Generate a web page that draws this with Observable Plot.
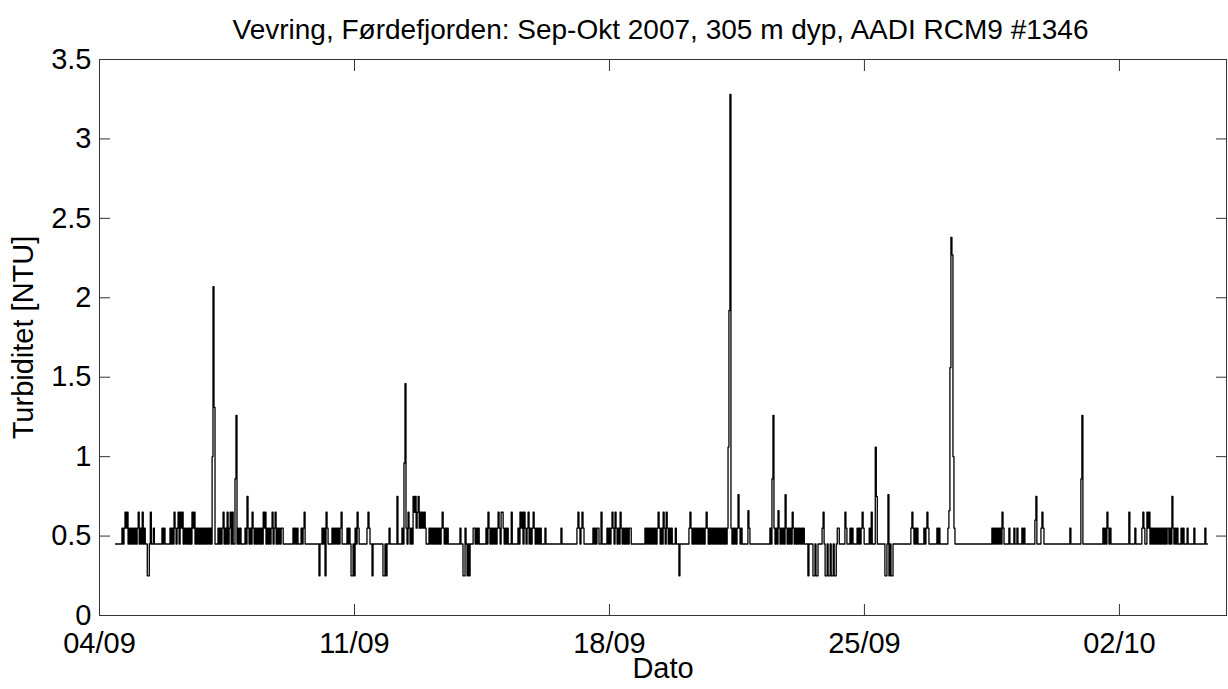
<!DOCTYPE html>
<html>
<head>
<meta charset="utf-8">
<script src="https://cdn.jsdelivr.net/npm/d3@7"></script>
<script src="https://cdn.jsdelivr.net/npm/@observablehq/plot@0.6"></script>
<style>
  html, body { margin: 0; padding: 0; background: #fff; }
  body { width: 1228px; height: 689px; overflow: hidden; font-family: "Liberation Sans", Arial, Helvetica, sans-serif; }
  #title { box-sizing: border-box; height: 30px; padding-top: 14px; padding-left: 99px; width: 1222px; overflow: visible;
           font-size: 28px; line-height: 32px; text-align: center; color: #000; white-space: nowrap; position: relative; z-index: 1; }
  #chart svg { display: block; }
</style>
</head>
<body>
<div id="title"></div>
<div id="chart"></div>
<script>
// ---------------- data ----------------
const titleText = "Vevring, Førdefjorden: Sep-Okt 2007, 305 m dyp, AADI RCM9 #1346";
const xLabel = "Dato";
const yLabel = "Turbiditet [NTU]";
const startDate = "2007-09-04";                 // day 0 of the record
const xEndDay = 30.94;                          // right end of the time axis (days)
const tickDates = ["2007-09-04", "2007-09-11", "2007-09-18", "2007-09-25", "2007-10-02"];
const yTicks = [0, 0.5, 1, 1.5, 2, 2.5, 3, 3.5];
const sampleMinutes = 40;                       // sampling interval
const baseLevel = 0.45;                         // background turbidity (NTU)
const recordStartDay = 0.439;
const recordEndDay = 30.415;

// start day of each run of non-background samples
const segStart = [0.631, 1.729, 1.949, 2.525, 3.102, 3.267, 3.733, 4.008, 4.557, 5.325,
  6.039, 6.396, 6.808, 7.357, 7.796, 8.180, 8.317, 8.976, 9.910, 10.623,
  11.502, 12.243, 12.682, 13.121, 13.560, 13.945, 14.988, 15.921, 16.196, 16.745,
  17.266, 17.815, 18.419, 19.462, 20.478, 21.576, 22.289, 22.646, 23.003, 23.305,
  24.513, 24.980, 25.117, 25.336, 25.693, 26.654, 26.956, 27.560, 28.273, 28.438,
  28.630, 29.344, 30.058, 30.360];

// turbidity samples (NTU) of each run, one per sampling interval
const segVals = [
  [.55,.45,.55,.65,.55,.65,.45,.55,.45,.55,.45,.55,.45,.55,.45,.55,.65,.45,.55,.45,.65,.45,.55,.45,.45,.25,.25,.45,.65,.45,.45,.55],
  [.55,.45,.55],
  [.55,.45,.55,.45,.65,.55,.45,.55,.65,.45,.65,.55,.65,.45,.55,.45,.55,.45,.55,.45,.55],
  [.45,.65,.55,.65,.45,.55,.45,.55,.45,.55,.45,.55,.45,.55,.45,.55,.45,.55,.45,.55,.45],
  [1.0,2.07,1.31],
  [.55,.45,.55,.45,.55,.65,.45,.55,.45,.65,.45,.55,.65,.45,.65],
  [.86,1.26,.45,.55,.45,.55],
  [.55,.45,.75,.55,.45,.55,.45,.65,.55,.45,.55,.45,.55,.45,.55,.45,.55,.45,.65,.55],
  [.65,.45,.55,.45,.55,.45,.55,.65,.45,.55,.65,.45,.55,.45,.55,.45,.55,.55],
  [.55,.45,.55,.45,.55,.45,.45,.45,.55,.45,.55,.65],
  [.25,.45,.45,.55,.45,.55,.25,.65,.55],
  [.55,.45,.55,.45,.55,.45,.55,.45,.55,.65],
  [.55,.45,.55,.45,.25,.25,.45,.25,.55,.45,.65,.55],
  [.55,.65,.55,.45,.45,.25],
  [.25,.25,.45,.25,.45,.45,.55],
  [.75],
  [.55,.45,.96,1.46,.55,.45,.65,.55,.45,.55,.45,.75,.65,.75,.55,.65,.75,.55,.65,.55,.65,.55,.65,.55],
  [.45,.45,.45,.55,.45,.55,.45,.55,.45,.55,.45,.55,.45,.55,.45,.55,.65,.55,.45,.55,.45,.55],
  [.55,.45,.45,.25,.25,.55,.45,.25,.45,.25,.45,.45,.45,.55,.55,.45,.55,.45,.55],
  [.55,.45,.65,.55,.45,.55,.45,.55,.45,.55,.45,.55,.65,.55,.45,.65,.65,.55,.45,.55,.45,.55,.45,.45,.45,.65],
  [.55,.45,.65,.55,.65,.45,.65,.55,.45,.55,.65,.45,.55,.45,.55,.65,.55,.45,.55,.45,.55,.45,.55],
  [.55],
  [.55],
  [.55,.65,.55,.45,.55,.65,.55],
  [.55,.45,.55,.45,.55,.55,.45,.45,.65],
  [.55,.45,.55,.45,.55,.65,.55,.45,.65,.55,.45,.55,.45,.65,.55,.45,.55,.45,.55,.45,.55,.45,.55,.55],
  [.55,.45,.55,.45,.55,.45,.55,.45,.55,.45,.55,.45,.55,.65,.55,.45,.55,.45,.65,.55,.45,.65,.55,.45,.55,.45,.55,.45,.45,.45,.55],
  [.25],
  [.55,.65,.55,.45,.55,.45,.55,.45,.55,.45,.55,.45,.55,.45,.55,.45,.55,.65,.55,.45],
  [.55,.45,.55,.45,.55,.45,.55,.45,.55,.45,.55,.45,.55,.45,.55,.45,.55,.45,.55],
  [1.06,1.92,3.28,.55,.45,.55,.45,.55,.45,.55,.76,.55,.45,.55],
  [.66,.55],
  [.55,.45,.86,1.26,.55,.45,.55,.45,.66,.55,.45,.55,.45,.55,.45,.76,.55,.45,.55,.45,.55,.45,.65,.55,.45,.55,.45,.55,.45,.55,.45,.55,.45,.55,.45],
  [.25,.45,.45,.45,.45,.25,.25,.45,.25,.25,.45,.45,.45,.45,.55,.65,.45,.25,.25,.45,.25,.25,.45,.25,.25,.45,.25,.25,.45,.55,.55],
  [.65,.55,.45,.45,.45,.55,.45,.55,.45,.45,.45,.45,.55,.45,.55,.45,.55,.65,.55,.45,.45,.45,.45,.45,.55,.45,.65,.45,.45,.45,1.06,.75],
  [.25,.25,.45,.76,.25,.45,.25,.25],
  [.55,.65,.55,.45,.55,.45,.55],
  [.55,.45,.55,.65,.55,.45],
  [.55,.45,.55,.45],
  [.55,.66,1.56,2.38,2.27,1.0,.55],
  [.55,.45,.55,.45,.55,.45,.55,.45,.55,.45,.65,.55],
  [.55],
  [.55,.45,.45,.55],
  [.55,.45,.55],
  [.6,.75,.45,.45,.45,.45,.55,.65,.55,.45],
  [.55],
  [.86,1.26],
  [.55,.45,.55,.45,.65,.55,.45,.55,.45],
  [.65],
  [.55],
  [.55,.65,.55,.45,.45,.65,.55,.65,.45,.55,.45,.55,.45,.55,.45,.55,.45,.55,.45,.55,.45,.55,.45,.55,.45,.55],
  [.55,.45,.55,.45,.75,.55,.45,.55,.45,.55,.45,.45,.45,.55,.45,.55,.45,.45,.45,.55],
  [.55],
  [.55]
];

// ---------------- build the series ----------------
const t0 = Date.parse(startDate + "T00:00:00Z");
const dayMs = 864e5;
const dt = sampleMinutes / 1440;
const toDate = d => new Date(t0 + d * dayMs);

const samples = [];
segStart.forEach((s, k) => segVals[k].forEach((v, i) => samples.push({day: s + i * dt, v})));
samples.sort((a, b) => a.day - b.day);

const series = [{day: recordStartDay, v: baseLevel}];
let prev = recordStartDay;
for (const p of samples) {
  if (p.day - prev > 1.5 * dt) {
    series.push({day: prev + dt, v: baseLevel});
    series.push({day: p.day - dt, v: baseLevel});
  }
  series.push(p);
  prev = p.day;
}
series.push({day: prev + dt, v: baseLevel});
series.push({day: recordEndDay, v: baseLevel});
series.forEach(p => p.date = toDate(p.day));

const xTicks = tickDates.map(s => new Date(s + "T00:00:00Z"));
const fmtX = d3.utcFormat("%d/%m");

document.getElementById("title").textContent = titleText;

const axisColor = "#333";
const chart = Plot.plot({
  width: 1228,
  height: 659,
  marginTop: 29,
  marginBottom: 74,
  marginLeft: 99,
  marginRight: 2,
  style: {fontFamily: "'Liberation Sans', Arial, Helvetica, sans-serif", fontSize: "29px", color: "#000", background: "transparent"},
  x: {type: "utc", domain: [toDate(0), toDate(xEndDay)]},
  y: {domain: [0, 3.5]},
  marks: [
    Plot.line(series, {x: "date", y: "v", stroke: "#000", strokeWidth: 1.3, curve: "step"}),
    Plot.frame({stroke: axisColor, strokeWidth: 1}),
    Plot.axisX({anchor: "bottom", ticks: xTicks, tickSize: 0, tickPadding: 17, tickFormat: fmtX,
                fontSize: 29, label: xLabel, labelAnchor: "center", labelArrow: "none", labelOffset: 62, fill: "#000"}),
    Plot.axisX({anchor: "bottom", ticks: xTicks, tickSize: -11, text: null, label: null, stroke: axisColor}),
    Plot.axisX({anchor: "top", ticks: xTicks, tickSize: -11, text: null, label: null, stroke: axisColor}),
    Plot.axisY({anchor: "left", ticks: yTicks, tickSize: 0, tickPadding: 8, tickFormat: d => String(d),
                fontSize: 29, label: yLabel, labelAnchor: "center", labelArrow: "none", labelOffset: 87, fill: "#000"}),
    Plot.axisY({anchor: "left", ticks: yTicks, tickSize: -11, text: null, label: null, stroke: axisColor}),
    Plot.axisY({anchor: "right", ticks: yTicks, tickSize: -11, text: null, label: null, stroke: axisColor})
  ]
});
document.getElementById("chart").appendChild(chart);
</script>
</body>
</html>
